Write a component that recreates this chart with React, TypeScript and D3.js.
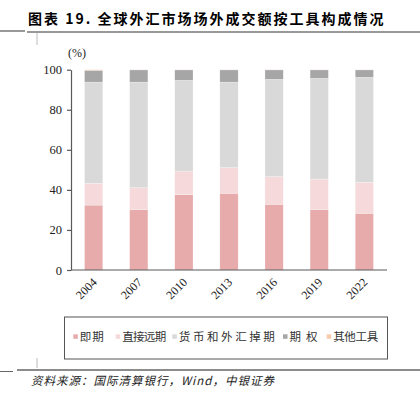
import React, { useRef, useEffect } from 'react';
import * as d3 from 'd3';

const years = ['2004', '2007', '2010', '2013', '2016', '2019', '2022'];
const spot = [32.4, 30.1, 37.6, 38.3, 32.8, 30.1, 28.3];
const forwards = [10.9, 11.0, 11.8, 12.8, 13.8, 15.3, 15.5];
const swaps = [50.5, 52.7, 45.3, 42.7, 48.6, 50.3, 52.4];
const options = [5.9, 6.1, 5.2, 6.1, 4.7, 4.2, 3.7];
const others = [0.3, 0.1, 0.1, 0.1, 0.1, 0.1, 0.1];

const seriesNames = ['即期', '直接远期', '货币和外汇掉期', '期权', '其他工具'];
const seriesColors = ['#E8ABAB', '#F6D9DA', '#D9D9D9', '#A6A6A6', '#F8CBAD'];
const yTicks = [0, 20, 40, 60, 80, 100];

const serif = '"Liberation Serif", "DejaVu Serif", serif';
const cjk = '"Noto Sans CJK SC", sans-serif';

// legend layout (marker x, label width)
const legendX = [73.3, 115.7, 172.3, 283, 326.7];
const legendW = [24, 44, 96, 28, 45];

const App = () => {
  const svgRef = useRef<SVGSVGElement>(null);

  useEffect(() => {
    const svg = d3.select(svgRef.current);
    svg.selectAll('*').remove();

    const margin = { top: 69.7, left: 71, right: 387, bottom: 270 };

    const x = d3.scaleBand().domain(years).range([margin.left, margin.right]).paddingInner(0.595).paddingOuter(0.3);
    const y = d3.scaleLinear().domain([0, 100]).range([margin.bottom, margin.top]);

    const rows = years.map((yr, i) => ({
      year: yr,
      s0: spot[i],
      s1: forwards[i],
      s2: swaps[i],
      s3: options[i],
      s4: others[i],
    }));
    const keys = ['s0', 's1', 's2', 's3', 's4'];
    const stacked = d3.stack<any>().keys(keys)(rows);

    // title
    svg.append('text')
      .attr('x', 28)
      .attr('y', 24)
      .attr('font-family', cjk)
      .attr('font-weight', 'bold')
      .attr('font-size', 14)
      .attr('letter-spacing', 2)
      .attr('fill', '#000')
      .text('图表 19. 全球外汇市场场外成交额按工具构成情况');

    svg.append('line').attr('x1', 0).attr('x2', 25).attr('y1', 31).attr('y2', 31)
      .attr('stroke', '#333').attr('stroke-width', 1);
    svg.append('line').attr('x1', 27).attr('x2', 420).attr('y1', 32).attr('y2', 32)
      .attr('stroke', '#333').attr('stroke-width', 1);
    svg.append('line').attr('x1', 37).attr('x2', 37).attr('y1', 33).attr('y2', 45)
      .attr('stroke', '#bbb').attr('stroke-width', 1);

    // bars
    svg.append('g')
      .selectAll('g')
      .data(stacked)
      .join('g')
      .attr('fill', (d, i) => seriesColors[i])
      .selectAll('rect')
      .data(d => d)
      .join('rect')
      .attr('x', d => x(d.data.year) as number)
      .attr('width', x.bandwidth())
      .attr('y', d => y(d[1]))
      .attr('height', d => Math.max(0, y(d[0]) - y(d[1])))
      .attr('stroke', '#fff')
      .attr('stroke-width', 0.4)
      .attr('stroke-opacity', 0.6);

    // y axis
    const yAxis = svg.append('g')
      .attr('transform', `translate(${margin.left},0)`)
      .call(d3.axisLeft(y).tickValues(yTicks).tickSize(4).tickSizeOuter(0));
    yAxis.select('.domain').attr('stroke', '#595959').attr('stroke-width', 1.2);
    yAxis.selectAll('.tick line').attr('stroke', '#595959').attr('stroke-width', 1.2);
    yAxis.selectAll('.tick text')
      .attr('font-family', serif)
      .attr('font-size', 12.5)
      .attr('fill', '#222')
      .attr('x', -9);

    svg.append('text')
      .attr('x', 77)
      .attr('y', 57)
      .attr('text-anchor', 'middle')
      .attr('font-family', serif)
      .attr('font-size', 12)
      .attr('fill', '#222')
      .text('(%)');

    // x axis
    svg.append('line')
      .attr('x1', margin.left).attr('x2', margin.right)
      .attr('y1', y(0)).attr('y2', y(0))
      .attr('stroke', '#595959').attr('stroke-width', 1.2);

    svg.append('g')
      .selectAll('text')
      .data(years)
      .join('text')
      .attr('transform', d => `translate(${(x(d) as number) + x.bandwidth() / 2 + 4},${283}) rotate(-45)`)
      .attr('text-anchor', 'end')
      .attr('font-family', serif)
      .attr('font-size', 12)
      .attr('fill', '#222')
      .text(d => d);

    // legend
    svg.append('rect')
      .attr('x', 64.5).attr('y', 317)
      .attr('width', 323).attr('height', 42)
      .attr('fill', 'none')
      .attr('stroke', '#555').attr('stroke-width', 1);

    const lg = svg.append('g')
      .selectAll('g')
      .data(seriesNames)
      .join('g')
      .attr('transform', (d, i) => `translate(${legendX[i]},334.3)`);
    lg.append('rect')
      .attr('x', 0).attr('y', 0)
      .attr('width', 4.5).attr('height', 4.5)
      .attr('fill', (d, i) => seriesColors[i]);
    lg.append('text')
      .attr('x', 6.5)
      .attr('y', 7)
      .attr('font-family', cjk)
      .attr('font-size', 11.5)
      .attr('textLength', (d, i) => legendW[i])
      .attr('lengthAdjust', 'spacing')
      .attr('fill', '#333')
      .text(d => d);

    // footer
    svg.append('line').attr('x1', 0).attr('x2', 13).attr('y1', 371.5).attr('y2', 371.5)
      .attr('stroke', '#666').attr('stroke-width', 1);
    svg.append('line').attr('x1', 17).attr('x2', 420).attr('y1', 370).attr('y2', 370)
      .attr('stroke', '#666').attr('stroke-width', 1.5);
    svg.append('line').attr('x1', 37).attr('x2', 37).attr('y1', 358).attr('y2', 368)
      .attr('stroke', '#bbb').attr('stroke-width', 1);

    svg.append('text')
      .attr('x', 31)
      .attr('y', 385)
      .attr('font-family', cjk)
      .attr('font-style', 'italic')
      .attr('font-size', 11.5)
      .attr('letter-spacing', 1)
      .attr('fill', '#222')
      .text('资料来源：国际清算银行，Wind，中银证券');
  }, []);

  return (
    <svg
      ref={svgRef}
      width={420}
      height={399}
      style={{ position: 'absolute', left: 0, top: 0, background: '#fff' }}
    />
  );
};

export default App;
